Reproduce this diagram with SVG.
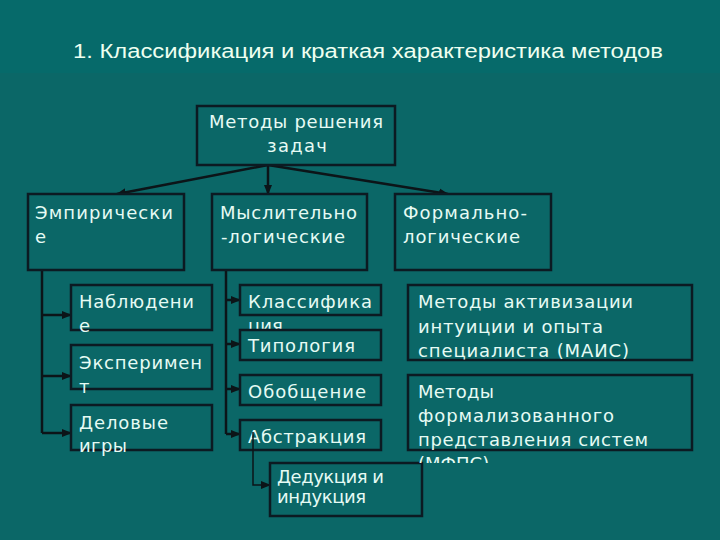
<svg xmlns="http://www.w3.org/2000/svg" width="720" height="540" viewBox="0 0 720 540">
<style>
.box{fill:#0b6767;stroke:#0c1a22;stroke-width:2.5}
.t{font-family:"DejaVu Sans",sans-serif;font-size:18px;fill:#e6fbf4}
.c{fill:none;stroke:#0c1418;stroke-width:2.5}
.thin{fill:none;stroke:#0c1418;stroke-width:1.5}
</style>
<defs>
<marker id="ah" markerUnits="userSpaceOnUse" markerWidth="10" markerHeight="10" viewBox="0 0 10 10" refX="9" refY="5" orient="auto">
<path d="M0,1 L10,5 L0,9 z" fill="#0c1418"/>
</marker>
<clipPath id="clipM"><rect x="400" y="370" width="300" height="93"/></clipPath>
</defs>
<rect width="720" height="540" fill="#0b6767"/>
<rect width="720" height="73" fill="#066a6a"/>
<text x="73" y="58" font-family="'Liberation Sans',sans-serif" font-size="20" fill="#eefff0" textLength="590" lengthAdjust="spacingAndGlyphs">1. Классификация и краткая характеристика методов</text>

<g id="connectors">
<path class="c" d="M268,165 L117,194" marker-end="url(#ah)"/>
<path class="c" d="M268,165 L268,194" marker-end="url(#ah)"/>
<path class="c" d="M268,165 L448,194" marker-end="url(#ah)"/>
<path class="c" d="M42,270 L42,433"/>
<path class="c" d="M42,315 L71,315" marker-end="url(#ah)"/>
<path class="c" d="M42,376 L71,376" marker-end="url(#ah)"/>
<path class="c" d="M42,433 L71,433" marker-end="url(#ah)"/>
<path class="c" d="M226,270 L226,434"/>
<path class="c" d="M226,300 L240,300" marker-end="url(#ah)"/>
<path class="c" d="M226,344 L240,344" marker-end="url(#ah)"/>
<path class="c" d="M226,389 L240,389" marker-end="url(#ah)"/>
<path class="c" d="M226,434 L240,434" marker-end="url(#ah)"/>
</g>

<g id="root">
<rect class="box" x="197" y="106" width="198" height="59"/>
<text class="t" x="209" y="128" textLength="174" lengthAdjust="spacing">Методы решения</text>
<text class="t" x="267" y="152" textLength="60" lengthAdjust="spacing">задач</text>
</g>

<g id="empirical">
<rect class="box" x="28" y="194" width="156" height="76"/>
<text class="t" x="35" y="219" textLength="138" lengthAdjust="spacing">Эмпирически</text>
<text class="t" x="35" y="243">е</text>
</g>
<g id="mental">
<rect class="box" x="212" y="194" width="155" height="76"/>
<text class="t" x="220" y="219" textLength="137" lengthAdjust="spacing">Мыслительно</text>
<text class="t" x="221" y="243" textLength="124" lengthAdjust="spacing">-логические</text>
</g>
<g id="formal">
<rect class="box" x="395" y="194" width="156" height="76"/>
<text class="t" x="403" y="219" textLength="124" lengthAdjust="spacing">Формально-</text>
<text class="t" x="403" y="243" textLength="117" lengthAdjust="spacing">логические</text>
</g>

<g id="observation">
<rect class="box" x="71" y="285" width="141" height="45"/>
<text class="t" x="79" y="308" textLength="115" lengthAdjust="spacing">Наблюдени</text>
<text class="t" x="79" y="332">е</text>
</g>
<g id="experiment">
<rect class="box" x="71" y="345" width="141" height="44"/>
<text class="t" x="79" y="369" textLength="123" lengthAdjust="spacing">Эксперимен</text>
<text class="t" x="79" y="393">т</text>
</g>
<g id="games">
<rect class="box" x="71" y="405" width="141" height="45"/>
<text class="t" x="79" y="429" textLength="89" lengthAdjust="spacing">Деловые</text>
<text class="t" x="79" y="452" textLength="48" lengthAdjust="spacing">игры</text>
</g>

<g id="classification">
<rect class="box" x="240" y="285" width="141" height="30"/>
<text class="t" x="248" y="308" textLength="124" lengthAdjust="spacing">Классифика</text>
<text class="t" x="248" y="332">ция</text>
</g>
<g id="typology">
<rect class="box" x="240" y="330" width="141" height="30"/>
<text class="t" x="248" y="352" textLength="107" lengthAdjust="spacing">Типология</text>
</g>
<g id="generalization">
<rect class="box" x="240" y="375" width="141" height="30"/>
<text class="t" x="248" y="398" textLength="118" lengthAdjust="spacing">Обобщение</text>
</g>
<g id="abstraction">
<rect class="box" x="240" y="420" width="141" height="30"/>
<text class="t" x="248" y="443" textLength="118" lengthAdjust="spacing">Абстракция</text>
</g>
<g id="connector-deduction">
<path class="thin" d="M253,432 L253,485 L270,485" marker-end="url(#ah)"/>
</g>
<g id="deduction">
<rect class="box" x="270" y="463" width="152" height="53"/>
<text class="t" x="277" y="483" textLength="107" lengthAdjust="spacing">Дедукция и</text>
<text class="t" x="277" y="503" textLength="89" lengthAdjust="spacing">индукция</text>
</g>

<g id="mais">
<rect class="box" x="408" y="285" width="284" height="75"/>
<text class="t" x="418" y="308" textLength="215" lengthAdjust="spacing">Методы активизации</text>
<text class="t" x="418" y="333" textLength="185" lengthAdjust="spacing">интуиции и опыта</text>
<text class="t" x="418" y="357" textLength="211" lengthAdjust="spacing">специалиста (МАИС)</text>
</g>
<g id="mfps">
<rect class="box" x="408" y="375" width="284" height="75"/>
<text class="t" x="418" y="398" textLength="76" lengthAdjust="spacing">Методы</text>
<text class="t" x="418" y="422" textLength="196" lengthAdjust="spacing">формализованного</text>
<text class="t" x="418" y="446" textLength="230" lengthAdjust="spacing">представления систем</text>
<text class="t" x="418" y="470" clip-path="url(#clipM)">(МФПС)</text>
</g>
</svg>
